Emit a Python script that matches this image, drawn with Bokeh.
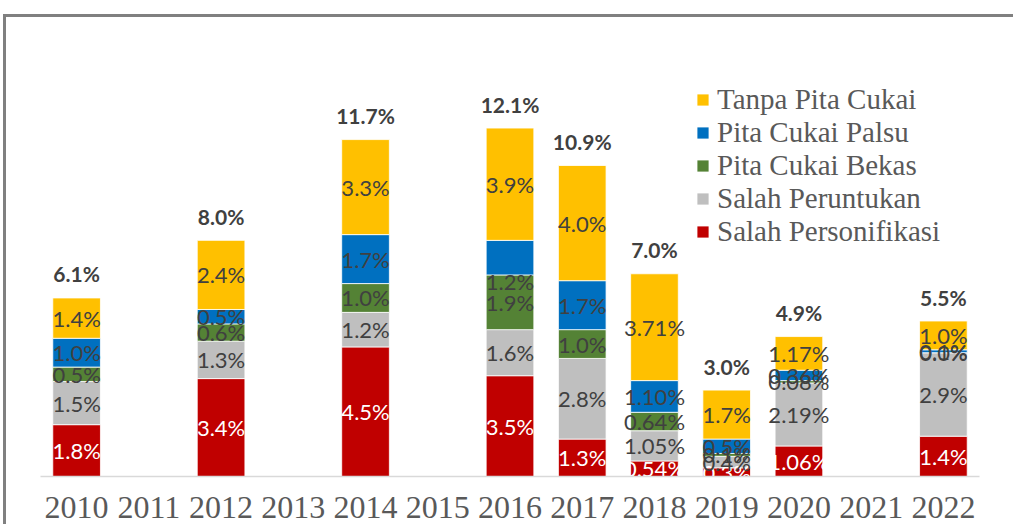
from bokeh.plotting import figure
from bokeh.models import ColumnDataSource, FactorRange, Range1d, Legend, LegendItem
from bokeh.core.properties import value
from bokeh.embed import file_html
from bokeh.resources import INLINE

# ---- data ----
x_categories = ["2010", "2011", "2012", "2013", "2014", "2015", "2016",
                "2017", "2018", "2019", "2020", "2021", "2022"]
years = ["2010", "2012", "2014", "2016", "2017", "2018", "2019", "2020", "2022"]
salah_personifikasi = [1.8, 3.4, 4.5, 3.5, 1.3, 0.54, 0.3, 1.06, 1.4]
salah_peruntukan = [1.5, 1.3, 1.2, 1.6, 2.8, 1.05, 0.4, 2.19, 2.9]
pita_cukai_bekas = [0.5, 0.6, 1.0, 1.9, 1.0, 0.64, 0.1, 0.08, 0.0]
pita_cukai_palsu = [1.0, 0.5, 1.7, 1.2, 1.7, 1.10, 0.5, 0.36, 0.1]
tanpa_pita_cukai = [1.4, 2.4, 3.3, 3.9, 4.0, 3.71, 1.7, 1.17, 1.0]
totals = [6.1, 8.0, 11.7, 12.1, 10.9, 7.0, 3.0, 4.9, 5.5]
label_decimals = [1, 1, 1, 1, 1, 2, 1, 2, 1]

series_keys = ["personifikasi", "peruntukan", "bekas", "palsu", "tanpa"]
series_names = ["Salah Personifikasi", "Salah Peruntukan", "Pita Cukai Bekas",
                "Pita Cukai Palsu", "Tanpa Pita Cukai"]
series_values = [salah_personifikasi, salah_peruntukan, pita_cukai_bekas,
                 pita_cukai_palsu, tanpa_pita_cukai]
colors = ["#C00000", "#BFBFBF", "#548235", "#0070C0", "#FFC000"]
label_colors = ["#FFFFFF", "#404040", "#404040", "#404040", "#404040"]
# manual label nudges (pixels, positive = down), as in the original
label_nudge = {("2016", "palsu"): 24}

data = {"year": years}
for k, v in zip(series_keys, series_values):
    data[k] = v
source = ColumnDataSource(data)

p = figure(x_range=FactorRange(*x_categories, range_padding=0),
           y_range=Range1d(0, 14.62),
           width=1010, height=510,
           output_backend="svg", toolbar_location=None,
           min_border_left=34, min_border_right=37,
           min_border_top=38, min_border_bottom=51)
p.styles = {"border-top": "3px solid #808080", "border-left": "3px solid #808080",
            "margin-left": "3px", "margin-top": "14px"}

renderers = p.vbar_stack(series_keys, x="year", width=0.66, color=colors,
                         source=source, line_color="white", line_width=0.8)

# segment labels
bottoms = [0.0] * len(years)
for i, (k, vals) in enumerate(zip(series_keys, series_values)):
    ys, texts, offs = [], [], []
    for j, v in enumerate(vals):
        ys.append(bottoms[j] + v / 2.0)
        texts.append(f"{v:.{label_decimals[j]}f}%")
        offs.append(label_nudge.get((years[j], k), 0))
        bottoms[j] += v
    src = ColumnDataSource(dict(x=years, y=ys, text=texts, off=offs))
    p.text(x="x", y="y", text="text", y_offset="off", source=src,
           text_align="center", text_baseline="middle",
           text_font=value("Lato"), text_font_size="22px",
           text_color=label_colors[i])

# totals
tot_src = ColumnDataSource(dict(x=years, y=bottoms,
                                text=[f"{t:.1f}%" for t in totals]))
p.text(x="x", y="y", text="text", y_offset=-24, source=tot_src,
       text_align="center", text_baseline="middle",
       text_font=value("Lato"), text_font_size="21px",
       text_font_style="bold", text_color="#404040")

legend = Legend(items=[LegendItem(label=series_names[i], renderers=[renderers[i]])
                       for i in reversed(range(len(series_keys)))],
                location=(655, 228))
legend.border_line_color = None
legend.background_fill_alpha = 0
legend.padding = 0
legend.margin = 0
legend.spacing = 0
legend.glyph_width = 15
legend.glyph_height = 15
legend.label_height = 29
legend.label_standoff = 7
legend.label_text_font = "Liberation Serif"
legend.label_text_font_size = "29px"
legend.label_text_line_height = 0.9
legend.label_text_color = "#595959"
p.add_layout(legend)

p.yaxis.visible = False
p.xgrid.grid_line_color = None
p.ygrid.grid_line_color = None
p.outline_line_color = None
p.xaxis.axis_line_color = "#D9D9D9"
p.xaxis.axis_line_width = 1.5
p.xaxis.major_tick_line_color = None
p.xaxis.minor_tick_line_color = None
p.xaxis.major_label_text_font = "Liberation Serif"
p.xaxis.major_label_text_font_size = "32px"
p.xaxis.major_label_text_color = "#595959"
p.xaxis.major_label_standoff = 14

open("out.html", "w").write(file_html(p, INLINE))
